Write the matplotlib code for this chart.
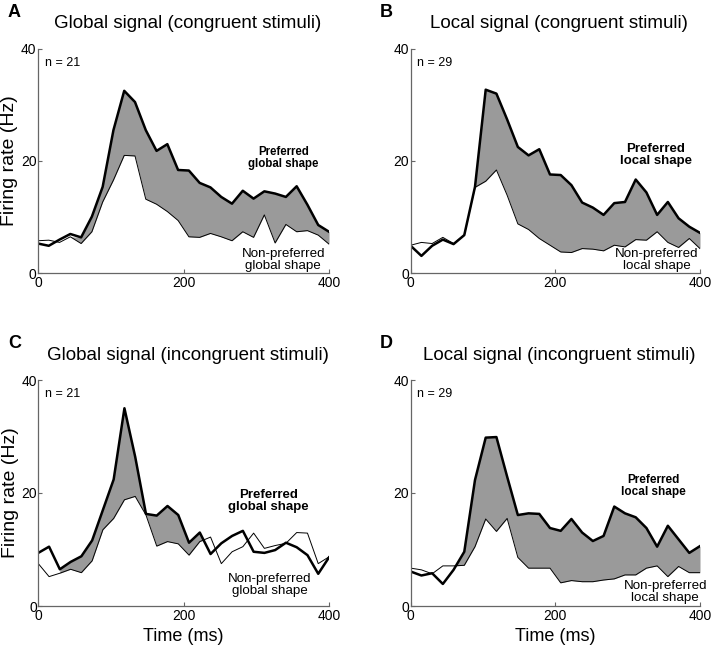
import numpy as np
import matplotlib
matplotlib.use("Agg")
import matplotlib.pyplot as plt

plt.rcParams['font.family'] = ['Liberation Sans', 'DejaVu Sans']

# 28 time bins from 0 to 400 ms
time = np.linspace(0, 400, 28)

# A: global signal, congruent
pref_a = [5.3, 4.9, 6.0, 7.0, 6.4, 10.1, 15.4, 25.5, 32.5, 30.5, 25.5, 21.8, 23.0, 18.4,
          18.3, 16.1, 15.3, 13.6, 12.4, 14.7, 13.3, 14.6, 14.2, 13.6, 15.5, 12.2, 8.6, 7.4]
nonp_a = [5.8, 5.9, 5.5, 6.5, 5.3, 7.4, 12.7, 16.6, 21.0, 20.9, 13.2, 12.3, 11.0, 9.4,
          6.5, 6.4, 7.1, 6.5, 5.8, 7.4, 6.4, 10.4, 5.4, 8.7, 7.4, 7.6, 6.8, 5.2]

# B: local signal, congruent
pref_b = [4.9, 3.1, 4.9, 6.0, 5.2, 6.8, 15.4, 32.7, 32.0, 27.4, 22.5, 21.0, 22.1, 17.6,
          17.5, 15.7, 12.6, 11.7, 10.4, 12.5, 12.7, 16.7, 14.4, 10.4, 12.7, 9.8, 8.3, 7.2]
nonp_b = [5.0, 5.5, 5.3, 6.4, 5.3, 6.8, 15.3, 16.4, 18.4, 13.9, 8.8, 7.8, 6.2, 5.0,
          3.8, 3.7, 4.4, 4.3, 4.0, 5.0, 4.7, 6.0, 5.9, 7.4, 5.5, 4.6, 6.2, 4.4]

# C: global signal, incongruent
pref_c = [9.4, 10.5, 6.5, 7.8, 8.8, 11.6, 17.0, 22.4, 35.0, 26.4, 16.3, 16.0, 17.7, 16.1,
          11.2, 13.0, 9.2, 11.1, 12.4, 13.3, 9.6, 9.4, 9.9, 11.2, 10.4, 9.0, 5.7, 8.6]
nonp_c = [7.5, 5.2, 5.8, 6.5, 5.9, 8.0, 13.5, 15.5, 18.8, 19.4, 16.1, 10.6, 11.4, 11.0,
          9.0, 11.4, 12.2, 7.5, 9.6, 10.5, 12.9, 10.2, 10.7, 11.1, 13.0, 12.9, 7.5, 8.7]

# D: local signal, incongruent
pref_d = [6.1, 5.4, 5.8, 3.9, 6.4, 9.6, 22.3, 29.8, 29.9, 22.9, 16.1, 16.4, 16.3, 13.8,
          13.3, 15.4, 13.0, 11.5, 12.4, 17.6, 16.4, 15.7, 13.8, 10.5, 14.2, 11.8, 9.4, 10.6]
nonp_d = [6.7, 6.4, 5.7, 7.1, 7.1, 7.2, 10.5, 15.4, 13.2, 15.5, 8.6, 6.7, 6.7, 6.7,
          4.1, 4.5, 4.3, 4.3, 4.6, 4.8, 5.5, 5.5, 6.7, 7.1, 5.2, 7.0, 5.9, 5.9]

W, H = 720, 652
fig = plt.figure(figsize=(W / 100, H / 100), dpi=100)


def px(x, y):
    return x / W, 1 - y / H


panels = [
    # axes box in pixels: left, top, right, bottom
    dict(letter='A', title='Global signal (congruent stimuli)', pref=pref_a, nonp=nonp_a,
         n='n = 21', rng=(55, 400), box=(38, 48.7, 329, 273.3),
         ptxt='Preferred\nglobal shape', pxy=(337, 20.5), psize=8.3,
         ntxt='Non-preferred\nglobal shape', nxy=(337, 2.4)),
    dict(letter='B', title='Local signal (congruent stimuli)', pref=pref_b, nonp=nonp_b,
         n='n = 29', rng=(85, 400), box=(410.7, 48.7, 700, 273.3),
         ptxt='Preferred\nlocal shape', pxy=(339, 21.0), psize=9.5,
         ntxt='Non-preferred\nlocal shape', nxy=(340, 2.3)),
    dict(letter='C', title='Global signal (incongruent stimuli)', pref=pref_c, nonp=nonp_c,
         n='n = 21', rng=(20, 240), box=(38.3, 380, 329, 606),
         ptxt='Preferred\nglobal shape', pxy=(317, 18.6), psize=9.5,
         ntxt='Non-preferred\nglobal shape', nxy=(318, 3.7)),
    dict(letter='D', title='Local signal (incongruent stimuli)', pref=pref_d, nonp=nonp_d,
         n='n = 29', rng=(55, 400), box=(410.7, 380, 700, 606),
         ptxt='Preferred\nlocal shape', pxy=(335, 21.2), psize=8.5,
         ntxt='Non-preferred\nlocal shape', nxy=(352, 2.5)),
]

axes = []
for p in panels:
    l, t, r, b = p['box']
    ax = fig.add_axes([l / W, 1 - b / H, (r - l) / W, (b - t) / H])
    axes.append(ax)
    pref = np.array(p['pref'])
    nonp = np.array(p['nonp'])
    mask = (pref >= nonp) & (time >= p['rng'][0]) & (time <= p['rng'][1])
    ax.fill_between(time, nonp, pref, where=mask, interpolate=True,
                    color='#9a9a9a', lw=0)
    ax.plot(time, nonp, color='black', lw=0.7)
    ax.plot(time, pref, color='black', lw=1.8)

    ax.set_xlim(0, 400)
    ax.set_ylim(0, 40)
    ax.set_xticks([0, 200, 400])
    ax.set_yticks([0, 20, 40])
    for s in ['top', 'right']:
        ax.spines[s].set_visible(False)
    for s in ['left', 'bottom']:
        ax.spines[s].set_color('#666666')
        ax.spines[s].set_linewidth(0.9)
    ax.tick_params(direction='in', length=3, color='#666666', labelsize=10, pad=2)
    ax.tick_params(axis='y', pad=1)

    ax.text(9, 37.5, p['n'], fontsize=9, va='center', ha='left')
    ax.text(p['pxy'][0], p['pxy'][1], p['ptxt'], fontsize=p['psize'], fontweight='bold',
            ha='center', va='center', linespacing=1.0)
    ax.text(p['nxy'][0], p['nxy'][1], p['ntxt'], fontsize=9.6, ha='center', va='center',
            linespacing=1.0)

    # title and panel letter
    tx, ty = px((l + r) / 2 + 4, t - 25)
    fig.text(tx, ty, p['title'], fontsize=13.5, ha='center', va='center')
    lx, ly = px(l - 24, t - 36)
    fig.text(lx, ly, p['letter'], fontsize=13, fontweight='bold', ha='center', va='center')

axes[0].set_ylabel('Firing rate (Hz)', fontsize=14, labelpad=2)
axes[2].set_ylabel('Firing rate (Hz)', fontsize=14, labelpad=2)
axes[2].set_xlabel('Time (ms)', fontsize=13, labelpad=4)
axes[3].set_xlabel('Time (ms)', fontsize=13, labelpad=4)

fig.savefig('out.png', dpi=100)
